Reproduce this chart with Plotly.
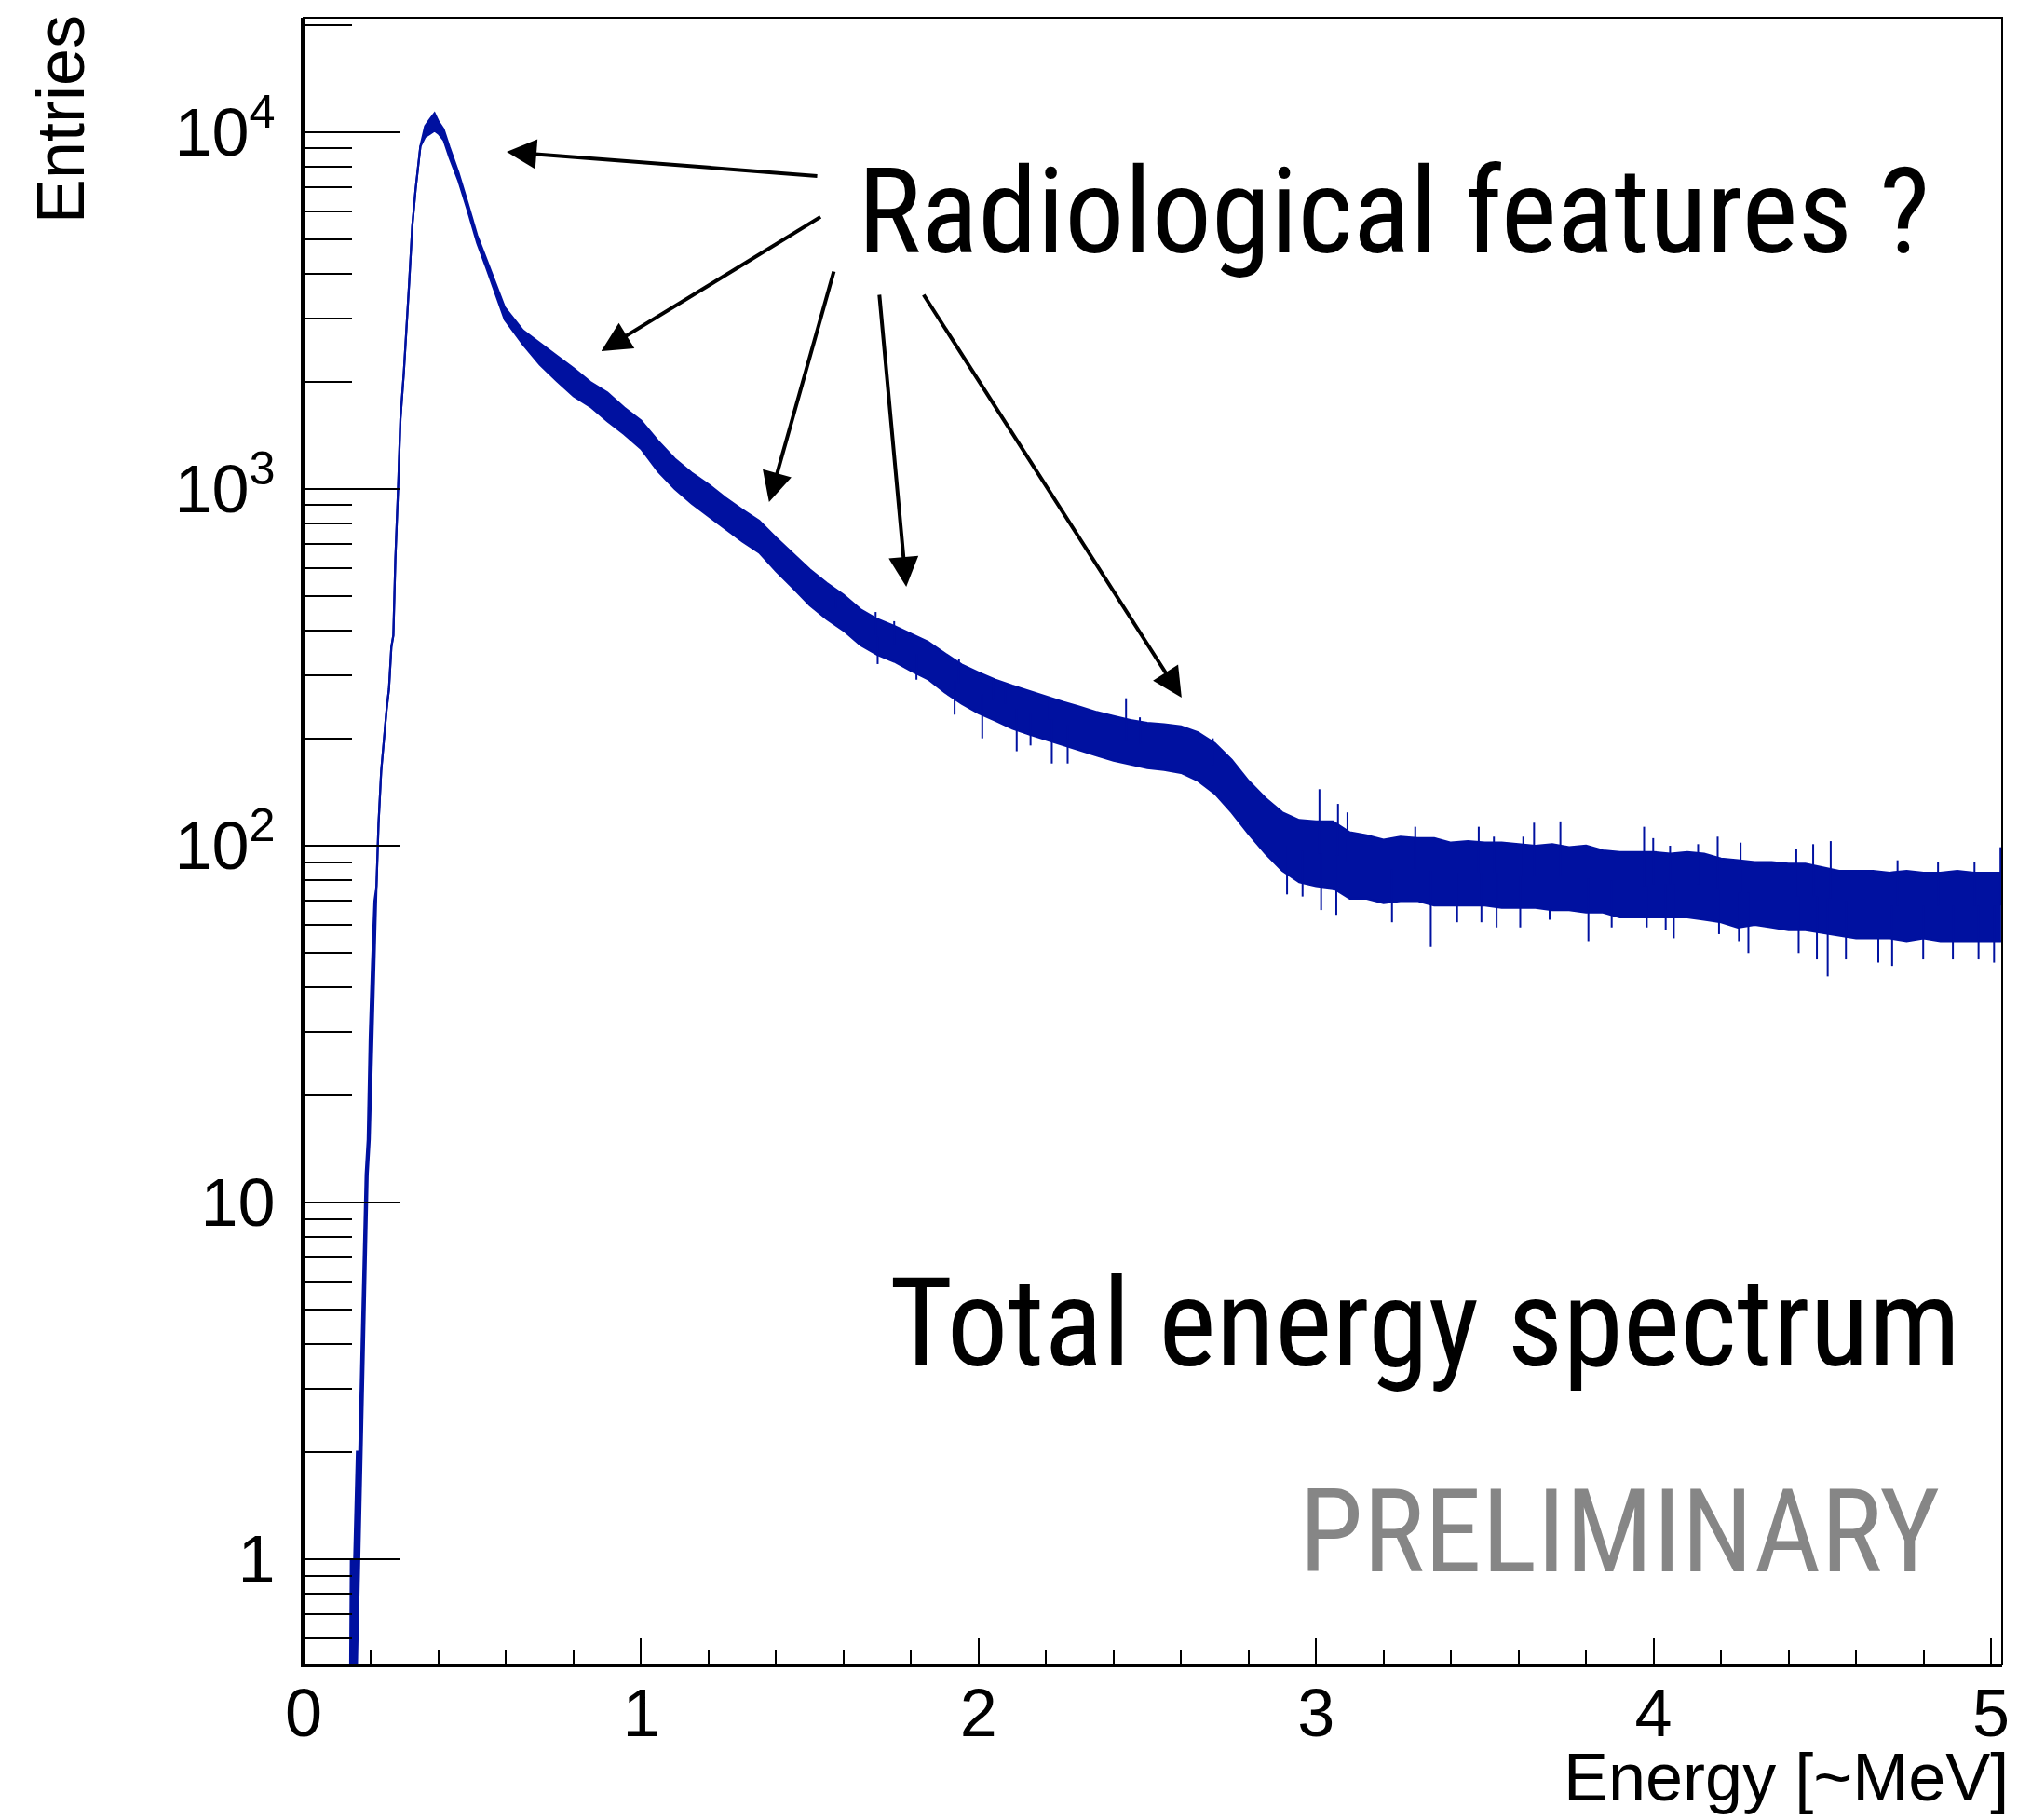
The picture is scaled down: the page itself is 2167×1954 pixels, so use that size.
import plotly.graph_objects as go

# ---------------- data ----------------
# energy sample points [~MeV] and envelope of the histogram band (counts)
energy_mev = [
    0.000, 0.138, 0.140, 0.150, 0.158, 0.165, 0.172, 0.178, 0.184, 0.190,
    0.196, 0.203, 0.210, 0.216, 0.222, 0.230, 0.238, 0.246, 0.253, 0.260,
    0.266, 0.272, 0.280, 0.287, 0.297, 0.305, 0.313, 0.322, 0.332, 0.346,
    0.360, 0.375, 0.388, 0.400, 0.415, 0.432, 0.459, 0.487, 0.514, 0.541,
    0.569, 0.596,
    0.65, 0.70, 0.75, 0.80, 0.85, 0.90, 0.95, 1.00, 1.05, 1.10,
    1.15, 1.20, 1.25, 1.30, 1.35, 1.40, 1.45, 1.50, 1.55, 1.60,
    1.65, 1.70, 1.75, 1.80, 1.85, 1.90, 1.95, 2.00, 2.05, 2.10,
    2.15, 2.20, 2.25, 2.30, 2.35, 2.40, 2.45, 2.50, 2.55, 2.60,
    2.65, 2.70, 2.75, 2.80, 2.85, 2.90, 2.95, 3.00, 3.05, 3.10,
    3.15, 3.20, 3.25, 3.30, 3.35, 3.40, 3.45, 3.50, 3.55, 3.60,
    3.65, 3.70, 3.75, 3.80, 3.85, 3.90, 3.95, 4.00, 4.05, 4.10,
    4.15, 4.20, 4.25, 4.30, 4.35, 4.40, 4.45, 4.50, 4.55, 4.60,
    4.65, 4.70, 4.75, 4.80, 4.85, 4.90, 4.95, 5.00, 5.03,
]
counts_high = [
    0.5, 0.5, 1, 1, 2, 2, 4, 7, 12, 15,
    29, 47, 70, 77, 115, 162, 203, 241, 275, 360,
    389, 637, 1000, 1570, 2120, 2750, 3800, 5450, 6930, 9120,
    10400, 10900, 11300, 10700, 10200, 9100, 7700, 6300, 5150, 4420,
    3760, 3230,
    2785, 2560, 2365, 2180, 1995, 1865, 1690, 1555, 1365, 1215,
    1110, 1030, 945, 875, 815, 730, 660, 595, 545, 505,
    460, 432, 413, 393, 373, 346, 322, 306, 292, 281,
    271, 262, 253, 245, 237, 231, 225, 221, 219, 216,
    208, 194, 174, 152, 136, 124, 118, 117, 117, 109,
    107, 104, 106, 105, 105, 102, 103, 102, 102, 101,
    100, 101, 99, 100, 97, 96, 96, 96, 95, 96,
    95, 92, 91, 90, 90, 89, 89, 87, 85, 85,
    85, 84, 85, 84, 84, 85, 84, 84, 84,
]
counts_low = [
    0.5, 0.5, 0.5, 0.5, 0.5, 1, 2, 4, 7, 12,
    15, 29, 47, 77, 115, 162, 203, 241, 275, 360,
    389, 637, 1000, 1570, 2120, 2750, 3800, 5450, 6930, 9120,
    9700, 9900, 10100, 9900, 9500, 8500, 7300, 6000, 4900, 4180,
    3530, 2980,
    2540, 2230, 2010, 1820, 1700, 1550, 1425, 1295, 1120, 1000,
    910, 840, 775, 712, 663, 588, 528, 472, 432, 401,
    365, 343, 328, 309, 293, 269, 250, 235, 224, 213,
    205, 198, 191, 185, 179, 173, 169, 165, 163, 160,
    152, 140, 124, 108, 95, 85, 79, 77, 76, 71,
    71, 69, 70, 70, 68, 68, 68, 68, 67, 67,
    67, 66, 66, 65, 65, 63, 63, 63, 63, 63,
    62, 61, 59, 60, 59, 58, 58, 57, 56, 55,
    55, 55, 54, 55, 54, 54, 54, 54, 54,
]

# individual fluctuation spikes (energy, lower end, upper end)
spike_energy = [
    1.330, 1.577, 1.695, 1.750, 1.942, 2.044, 2.080, 2.209, 2.437, 2.478,
    2.694, 3.010, 3.065, 3.093, 3.294, 3.482, 3.527, 3.614, 3.646, 3.724,
    3.972, 3.999, 4.049, 4.132, 4.190, 4.258, 4.423, 4.473, 4.525, 4.723,
    4.843, 4.951, 5.028,
    1.701, 1.816, 1.929, 2.011, 2.113, 2.154, 2.217, 2.264, 2.914, 2.960,
    3.015, 3.060, 3.225, 3.340, 3.418, 3.490, 3.535, 3.605, 3.692, 3.807,
    3.876, 3.980, 4.036, 4.060, 4.194, 4.253, 4.281, 4.430, 4.484, 4.516,
    4.570, 4.666, 4.707, 4.799, 4.887, 4.963, 5.009,
]
spike_low = [
    780, 463, 390, 368, 286, 256, 250, 226, 197, 193,
    168, 95, 94, 90, 86, 84, 84, 82, 82, 82,
    77, 78, 78, 78, 76, 74, 72, 72, 71, 68,
    68, 68, 68,
    323, 292, 233, 200, 184, 191, 170, 170, 73, 72,
    66, 64, 61, 52, 61, 61, 59, 59, 62, 54,
    59, 59, 58, 55, 56.5, 54, 50, 50, 48, 43,
    48, 47, 46, 48, 48, 48, 47,
]
spike_high = [
    811, 510, 452, 426, 333, 292, 279, 259, 259, 229,
    200, 144, 131, 124, 113, 113, 106, 106, 116, 117,
    113, 105, 100, 101, 106, 102, 98, 101, 103, 91,
    90, 90, 99,
    385, 345, 290, 265, 242, 235, 226, 218, 100, 97,
    95, 94, 86, 85, 84, 84, 84, 82, 82, 81,
    80, 77, 78, 78, 75, 74, 74, 72, 72, 71,
    70, 69, 68, 68, 68, 68, 68,
]

x_tick_vals = [0, 1, 2, 3, 4, 5]
x_tick_text = ["0", "1", "2", "3", "4", "5"]
y_tick_vals = [1, 10, 100, 1000, 10000]
y_tick_text = ["1", "10", "10<sup>2</sup>", "10<sup>3</sup>", "10<sup>4</sup>"]
y_minor_vals = [0.6, 0.7, 0.8, 0.9,
                2, 3, 4, 5, 6, 7, 8, 9,
                20, 30, 40, 50, 60, 70, 80, 90,
                200, 300, 400, 500, 600, 700, 800, 900,
                2000, 3000, 4000, 5000, 6000, 7000, 8000, 9000,
                20000]

# ---------------- figure ----------------
BLUE = "#0011a0"
W, H = 2167, 1954
L, R, T, B = 326, 9, 19, 167
PW, PH = W - L - R, H - T - B


def px(xp):
    return (xp - L) / PW


def py(yp):
    return (H - B - yp) / PH


fig = go.Figure()
fig.add_trace(go.Scatter(x=energy_mev, y=counts_high, mode="lines",
                         line=dict(color=BLUE, width=2.2), hoverinfo="skip",
                         showlegend=False))
fig.add_trace(go.Scatter(x=energy_mev, y=counts_low, mode="lines",
                         line=dict(color=BLUE, width=2.2), fill="tonexty",
                         fillcolor=BLUE, hoverinfo="skip", showlegend=False))

sx, sy = [], []
for e, lo, hi in zip(spike_energy, spike_low, spike_high):
    sx += [e, e, None]
    sy += [lo, hi, None]
fig.add_trace(go.Scatter(x=sx, y=sy, mode="lines",
                         line=dict(color=BLUE, width=2), hoverinfo="skip",
                         showlegend=False))

AXFONT = dict(family="Liberation Sans, Arial, Helvetica, sans-serif", size=72, color="black")

fig.update_layout(
    width=W, height=H, autosize=False,
    margin=dict(l=L, r=R, t=T, b=B, pad=0),
    paper_bgcolor="white", plot_bgcolor="white",
    showlegend=False,
    xaxis=dict(
        range=[0, 5.033], showgrid=False, zeroline=False,
        showline=True, linecolor="black", linewidth=3, mirror=False,
        tickmode="array", tickvals=x_tick_vals, ticktext=x_tick_text,
        ticks="inside", ticklen=28, tickwidth=2, tickcolor="black",
        tickfont=AXFONT, ticklabelstandoff=-12,
        minor=dict(dtick=0.2, tick0=0, ticks="inside", ticklen=15,
                   tickwidth=2, tickcolor="black", showgrid=False),
    ),
    yaxis=dict(
        type="log", range=[-0.295, 4.321], showgrid=False, zeroline=False,
        showline=True, linecolor="black", linewidth=3, mirror=False,
        tickmode="array", tickvals=y_tick_vals, ticktext=y_tick_text,
        ticks="inside", ticklen=104, tickwidth=2, tickcolor="black",
        tickfont=AXFONT, ticklabelstandoff=13,
        minor=dict(tickmode="array", tickvals=y_minor_vals, ticks="inside",
                   ticklen=52, tickwidth=2, tickcolor="black", showgrid=False),
    ),
    shapes=[dict(type="rect", xref="paper", yref="paper", x0=0, x1=1, y0=0, y1=1,
                 line=dict(color="black", width=2), layer="above")],
)

TITLEFONT = dict(family="Liberation Sans, Arial, Helvetica, sans-serif", size=72, color="black")
COND = "Roboto Condensed, Liberation Sans Narrow, Arial Narrow, DejaVu Sans Condensed, sans-serif"

annotations = [
    dict(text="Energy [~MeV]", xref="paper", yref="paper", x=px(2166), y=py(1908),
         xanchor="right", yanchor="middle", showarrow=False, font=TITLEFONT, borderpad=0),
    dict(text="Entries", xref="paper", yref="paper", x=px(64), y=py(128),
         xanchor="center", yanchor="middle", textangle=-90, showarrow=False,
         font=dict(family="Liberation Sans, Arial, Helvetica, sans-serif", size=72, color="black")),
    dict(text="Radiological features ?", xref="paper", yref="paper", x=px(922), y=py(227),
         xanchor="left", yanchor="middle", showarrow=False,
         font=dict(family=COND, size=128, color="black")),
    dict(text="Total energy spectrum", xref="paper", yref="paper", x=px(956), y=py(1421),
         xanchor="left", yanchor="middle", showarrow=False,
         font=dict(family=COND, size=131, color="black")),
    dict(text="PRELIMINARY", xref="paper", yref="paper", x=px(1398), y=py(1644),
         xanchor="left", yanchor="middle", showarrow=False,
         font=dict(family=COND, size=124, color="#868686")),
]

# arrows: (tail_x, tail_y) -> (head_x, head_y) in page pixels
arrows = [
    ((880, 189), (545, 163)),
    ((884, 232), (647, 377)),
    ((898, 290), (828, 539)),
    ((947, 315), (976, 630)),
    ((995, 315), (1273, 749)),
]
for (tx, ty), (hx, hy) in arrows:
    annotations.append(dict(
        xref="paper", yref="paper", x=px(hx), y=py(hy), ax=tx - hx, ay=ty - hy,
        axref="pixel", ayref="pixel", text="", showarrow=True,
        arrowhead=2, arrowsize=1.6, arrowwidth=4, arrowcolor="black", standoff=0,
    ))

fig.update_layout(annotations=annotations)
fig.write_html("out.html")
